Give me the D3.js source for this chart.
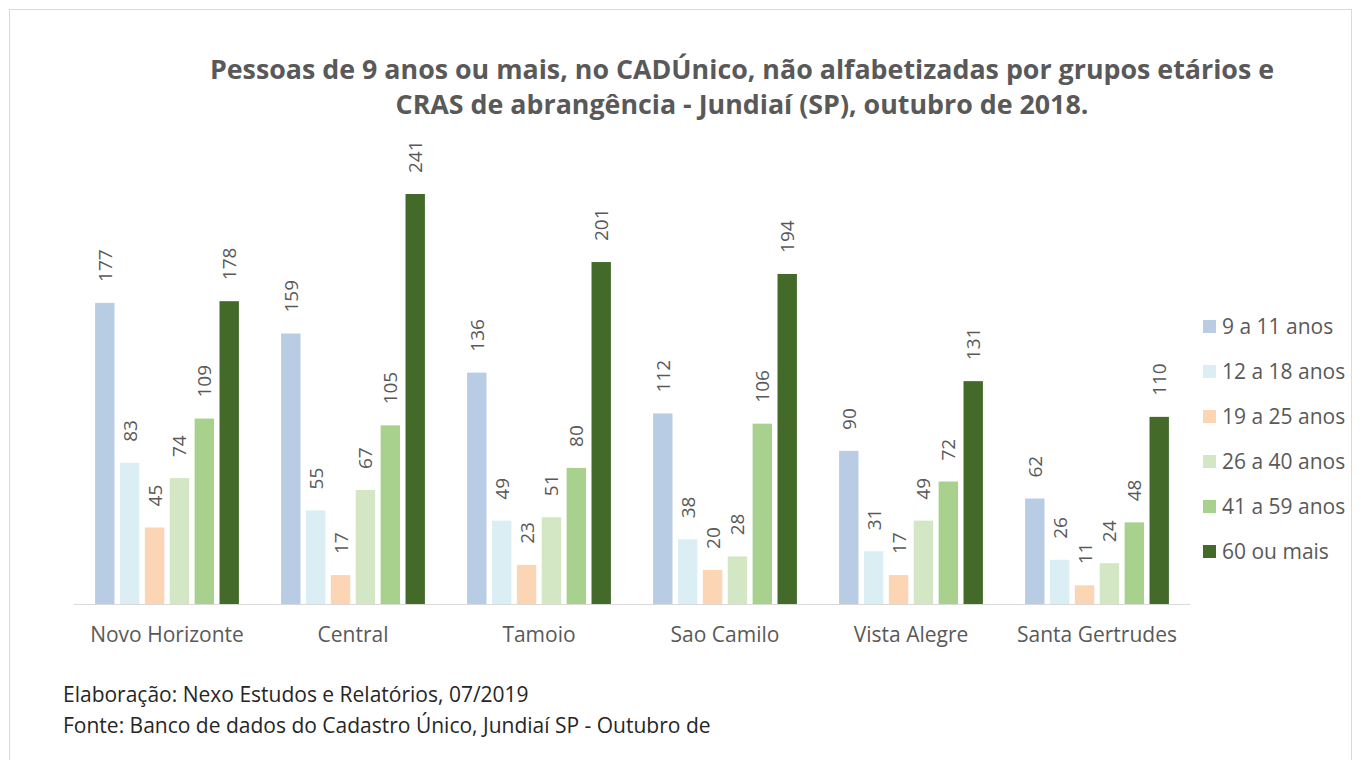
<!DOCTYPE html>
<html>
<head>
<meta charset="utf-8">
<script src="https://cdn.jsdelivr.net/npm/d3@7"></script>
<style>
  body { margin: 0; background: #fff; }
  svg { font-family: "Open Sans", "Liberation Sans", sans-serif; }
</style>
</head>
<body>
<div id="chart"></div>
<script>
const width = 1361;
const height = 760;

const categories = ["Novo Horizonte", "Central", "Tamoio", "Sao Camilo", "Vista Alegre", "Santa Gertrudes"];
const groups = ["9 a 11 anos", "12 a 18 anos", "19 a 25 anos", "26 a 40 anos", "41 a 59 anos", "60 ou mais"];
const colors = ["#b8cce4", "#daeef3", "#fcd5b5", "#d3e7c4", "#a9d18e", "#446a2a"];

// values per group, in the order of categories
const age9to11  = [177, 159, 136, 112, 90, 62];
const age12to18 = [83, 55, 49, 38, 31, 26];
const age19to25 = [45, 17, 23, 20, 17, 11];
const age26to40 = [74, 67, 51, 28, 49, 24];
const age41to59 = [109, 105, 80, 106, 72, 48];
const age60plus = [178, 241, 201, 194, 131, 110];
const series = [age9to11, age12to18, age19to25, age26to40, age41to59, age60plus];

const svg = d3.select("#chart").append("svg")
    .attr("width", width)
    .attr("height", height);

// frame
svg.append("rect")
    .attr("x", 9.5).attr("y", 9.5)
    .attr("width", 1342).attr("height", 770)
    .attr("fill", "#fff")
    .attr("stroke", "#d9d9d9");

// title
const title = svg.append("text")
    .attr("text-anchor", "middle")
    .attr("fill", "#595959")
    .style("font-size", "26.8px")
    .style("font-weight", "bold");
title.append("tspan").attr("x", 742).attr("y", 79)
    .text("Pessoas de 9 anos ou mais, no CADÚnico, não alfabetizadas por grupos etários e");
title.append("tspan").attr("x", 742).attr("y", 114)
    .text("CRAS de abrangência - Jundiaí (SP), outubro de 2018.");

const x0 = d3.scaleBand()
    .domain(categories)
    .range([74, 1190])
    .paddingInner(0.2)
    .paddingOuter(0.1);

const x1 = d3.scaleBand()
    .domain(groups)
    .range([0, x0.bandwidth()])
    .paddingInner(0.22)
    .paddingOuter(0.1);

const y = d3.scaleLinear()
    .domain([0, 241])
    .range([604, 194]);

const rows = [];
categories.forEach(function(c, i) {
    groups.forEach(function(g, j) {
        rows.push({ cat: c, group: g, idx: j, value: series[j][i] });
    });
});

svg.selectAll("rect.bar")
    .data(rows)
    .enter()
    .append("rect")
    .attr("class", "bar")
    .attr("x", function(d) { return x0(d.cat) + x1(d.group); })
    .attr("y", function(d) { return y(d.value); })
    .attr("width", x1.bandwidth())
    .attr("height", function(d) { return y(0) - y(d.value); })
    .attr("fill", function(d) { return colors[d.idx]; });

svg.selectAll("text.val")
    .data(rows)
    .enter()
    .append("text")
    .attr("class", "val")
    .attr("transform", function(d) {
        const cx = x0(d.cat) + x1(d.group) + x1.bandwidth() / 2;
        return "translate(" + (cx + 7) + "," + (y(d.value) - 21) + ") rotate(-90)";
    })
    .attr("fill", "#595959")
    .style("font-size", "19px")
    .text(function(d) { return d.value; });

// x axis
const xAxis = svg.append("g")
    .attr("transform", "translate(0,604)")
    .call(d3.axisBottom(x0).tickSize(0).tickPadding(23));
xAxis.select(".domain").attr("stroke", "#d9d9d9").attr("d", "M74,0.5H1190");
xAxis.selectAll("text")
    .attr("fill", "#595959")
    .style("font-size", "21px")
    .style("font-family", "'Open Sans', sans-serif");

// legend
const legend = svg.selectAll("g.leg")
    .data(groups)
    .enter()
    .append("g")
    .attr("class", "leg")
    .attr("transform", function(d, i) { return "translate(1203," + (326 + i * 45) + ")"; });
legend.append("rect")
    .attr("x", 0).attr("y", -6)
    .attr("width", 13).attr("height", 13)
    .attr("fill", function(d, i) { return colors[i]; });
legend.append("text")
    .attr("x", 19).attr("y", 8)
    .attr("fill", "#595959")
    .style("font-size", "21px")
    .text(function(d) { return d; });

// footer
svg.append("text")
    .attr("x", 63).attr("y", 702)
    .attr("fill", "#262626")
    .style("font-size", "21px")
    .text("Elaboração: Nexo Estudos e Relatórios, 07/2019");
svg.append("text")
    .attr("x", 63).attr("y", 733)
    .attr("fill", "#262626")
    .style("font-size", "21px")
    .text("Fonte: Banco de dados do Cadastro Único, Jundiaí SP - Outubro de");
</script>
</body>
</html>
